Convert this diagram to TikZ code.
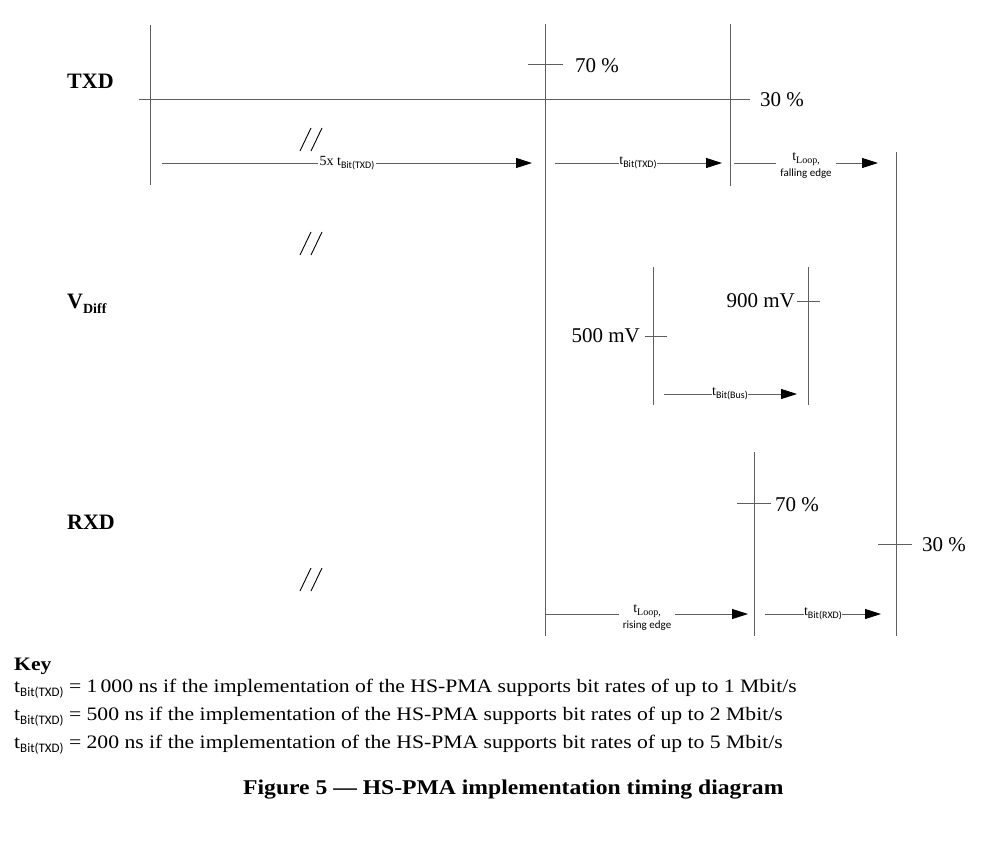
\documentclass[tikz,border=0pt]{standalone}
\usepackage{fontspec}
\setmainfont{Liberation Serif}
\newfontfamily\subf{Carlito}
\newfontfamily\keyf[FakeStretch=1.14]{Liberation Serif}
\newfontfamily\capf[FakeStretch=1.125]{Liberation Serif}
\usetikzlibrary{arrows.meta}
\definecolor{lg}{RGB}{95,95,95}
\newcommand\lowsub[3]{\raisebox{-#1}{\fontsize{#2}{#2}\selectfont #3}}
\begin{document}
\begin{tikzpicture}[x=1pt,y=-1pt,
  vline/.style={draw=lg, line width=0.9pt},
  arr/.style={draw=lg, line width=0.9pt, -{Triangle[length=16pt,width=10pt,color=black,fill=black]}},
  brk/.style={draw=black, line width=0.9pt},
  siglab/.style={font=\bfseries\fontsize{22}{22}\selectfont, anchor=base west, inner sep=0pt},
  lvl/.style={font=\fontsize{21}{21}\selectfont, inner sep=0pt},
  tlab/.style={font=\fontsize{14}{14}\selectfont, fill=white, inner sep=1.5pt, align=center},
  keyt/.style={font=\keyf\fontsize{19}{19}\selectfont, anchor=base west, inner sep=0pt},
]
\path[use as bounding box] (0,0) rectangle (987,845);

% signal names
\node[siglab] (txd) at (67,89) {TXD};
\node[siglab] (vdiff) at (67,308) {V\lowsub{5pt}{14}{Diff}};
\node[siglab] (rxd) at (67,529) {RXD};

% vertical lines
\coordinate (v1t) at (150,25);  \coordinate (v1b) at (150,185);
\coordinate (v2t) at (545,24);  \coordinate (v2b) at (545,636);
\coordinate (v3t) at (730,24);  \coordinate (v3b) at (730,186);
\coordinate (v4t) at (896,152); \coordinate (v4b) at (896,636);
\coordinate (v5t) at (653,267); \coordinate (v5b) at (653,405);
\coordinate (v6t) at (808,267); \coordinate (v6b) at (808,405);
\coordinate (v7t) at (754,452); \coordinate (v7b) at (754,636);
\foreach \v in {v1,v2,v3,v4,v5,v6,v7} \draw[vline] (\v t) -- (\v b);

% level lines and ticks
\coordinate (h30a) at (139,99); \coordinate (h30b) at (750,99);
\draw[vline] (h30a) -- (h30b);
\node[lvl, anchor=west] (l30a) at (760,100) {30 \%};
\coordinate (t70a) at (528,64); \coordinate (t70b) at (563,64);
\draw[vline] (t70a) -- (t70b);
\node[lvl, anchor=west] (l70a) at (575,66) {70 \%};
\coordinate (t500a) at (645,336); \coordinate (t500b) at (667,336);
\draw[vline] (t500a) -- (t500b);
\node[lvl, anchor=east] (l500) at (640,336) {500 mV};
\coordinate (t900a) at (797,301); \coordinate (t900b) at (820,301);
\draw[vline] (t900a) -- (t900b);
\node[lvl, anchor=east] (l900) at (795,301) {900 mV};
\coordinate (r70a) at (737,503); \coordinate (r70b) at (771,503);
\draw[vline] (r70a) -- (r70b);
\node[lvl, anchor=west] (l70r) at (775,505) {70 \%};
\coordinate (r30a) at (878,544); \coordinate (r30b) at (912,544);
\draw[vline] (r30a) -- (r30b);
\node[lvl, anchor=west] (l30r) at (922,545) {30 \%};

% timing arrows
\coordinate (a1s) at (162,163); \coordinate (a1e) at (532,163);
\draw[arr] (a1s) -- (a1e);
\node[tlab] (a1l) at (347,163) {5x t\lowsub{3pt}{10}{\subf Bit(TXD)}};
\coordinate (a2s) at (555,163); \coordinate (a2e) at (722,163);
\draw[arr] (a2s) -- (a2e);
\node[tlab, inner sep=0pt] (a2l) at (638,163) {t\lowsub{3pt}{10}{\subf Bit(TXD)}};
\coordinate (a3s) at (734,163); \coordinate (a3e) at (878,163);
\draw[arr] (a3s) -- (a3e);
\node[tlab, inner xsep=4pt] (a3l) at (806,166) {t\lowsub{3pt}{10}{Loop,}\\[2pt]{\subf\fontsize{11}{11}\selectfont falling edge}};
\coordinate (a4s) at (664,394); \coordinate (a4e) at (797,394);
\draw[arr] (a4s) -- (a4e);
\node[tlab, inner sep=0pt] (a4l) at (730,394) {t\lowsub{3pt}{10}{\subf Bit(Bus)}};
\coordinate (a5s) at (546,614); \coordinate (a5e) at (748,614);
\draw[arr] (a5s) -- (a5e);
\node[tlab, inner xsep=4pt] (a5l) at (647,617) {t\lowsub{3pt}{10}{Loop,}\\[2pt]{\subf\fontsize{11}{11}\selectfont rising edge}};
\coordinate (a6s) at (765,614); \coordinate (a6e) at (881,614);
\draw[arr] (a6s) -- (a6e);
\node[tlab, inner sep=0pt] (a6l) at (823,614) {t\lowsub{3pt}{10}{\subf Bit(RXD)}};

% break marks
\foreach \yy [count=\i] in {151,255,591} {
  \coordinate (b\i a) at (300,\yy); \coordinate (b\i b) at (311,\yy-23);
  \coordinate (b\i c) at (311,\yy); \coordinate (b\i d) at (322,\yy-23);
  \draw[brk] (b\i a) -- (b\i b);
  \draw[brk] (b\i c) -- (b\i d);
}

% key
\node[keyt, font=\keyf\bfseries\fontsize{19}{19}\selectfont] (key) at (14,670) {Key};
\node[keyt] (k1) at (14,692) {t\lowsub{4pt}{13}{\subf Bit(TXD)} = 1\,000 ns if the implementation of the HS-PMA supports bit rates of up to 1 Mbit/s};
\node[keyt] (k2) at (14,720) {t\lowsub{4pt}{13}{\subf Bit(TXD)} = 500 ns if the implementation of the HS-PMA supports bit rates of up to 2 Mbit/s};
\node[keyt] (k3) at (14,748) {t\lowsub{4pt}{13}{\subf Bit(TXD)} = 200 ns if the implementation of the HS-PMA supports bit rates of up to 5 Mbit/s};

% caption
\node[keyt, font=\capf\bfseries\fontsize{21}{21}\selectfont] (cap) at (243,794) {Figure 5 — HS-PMA implementation timing diagram};
\end{tikzpicture}
\end{document}
